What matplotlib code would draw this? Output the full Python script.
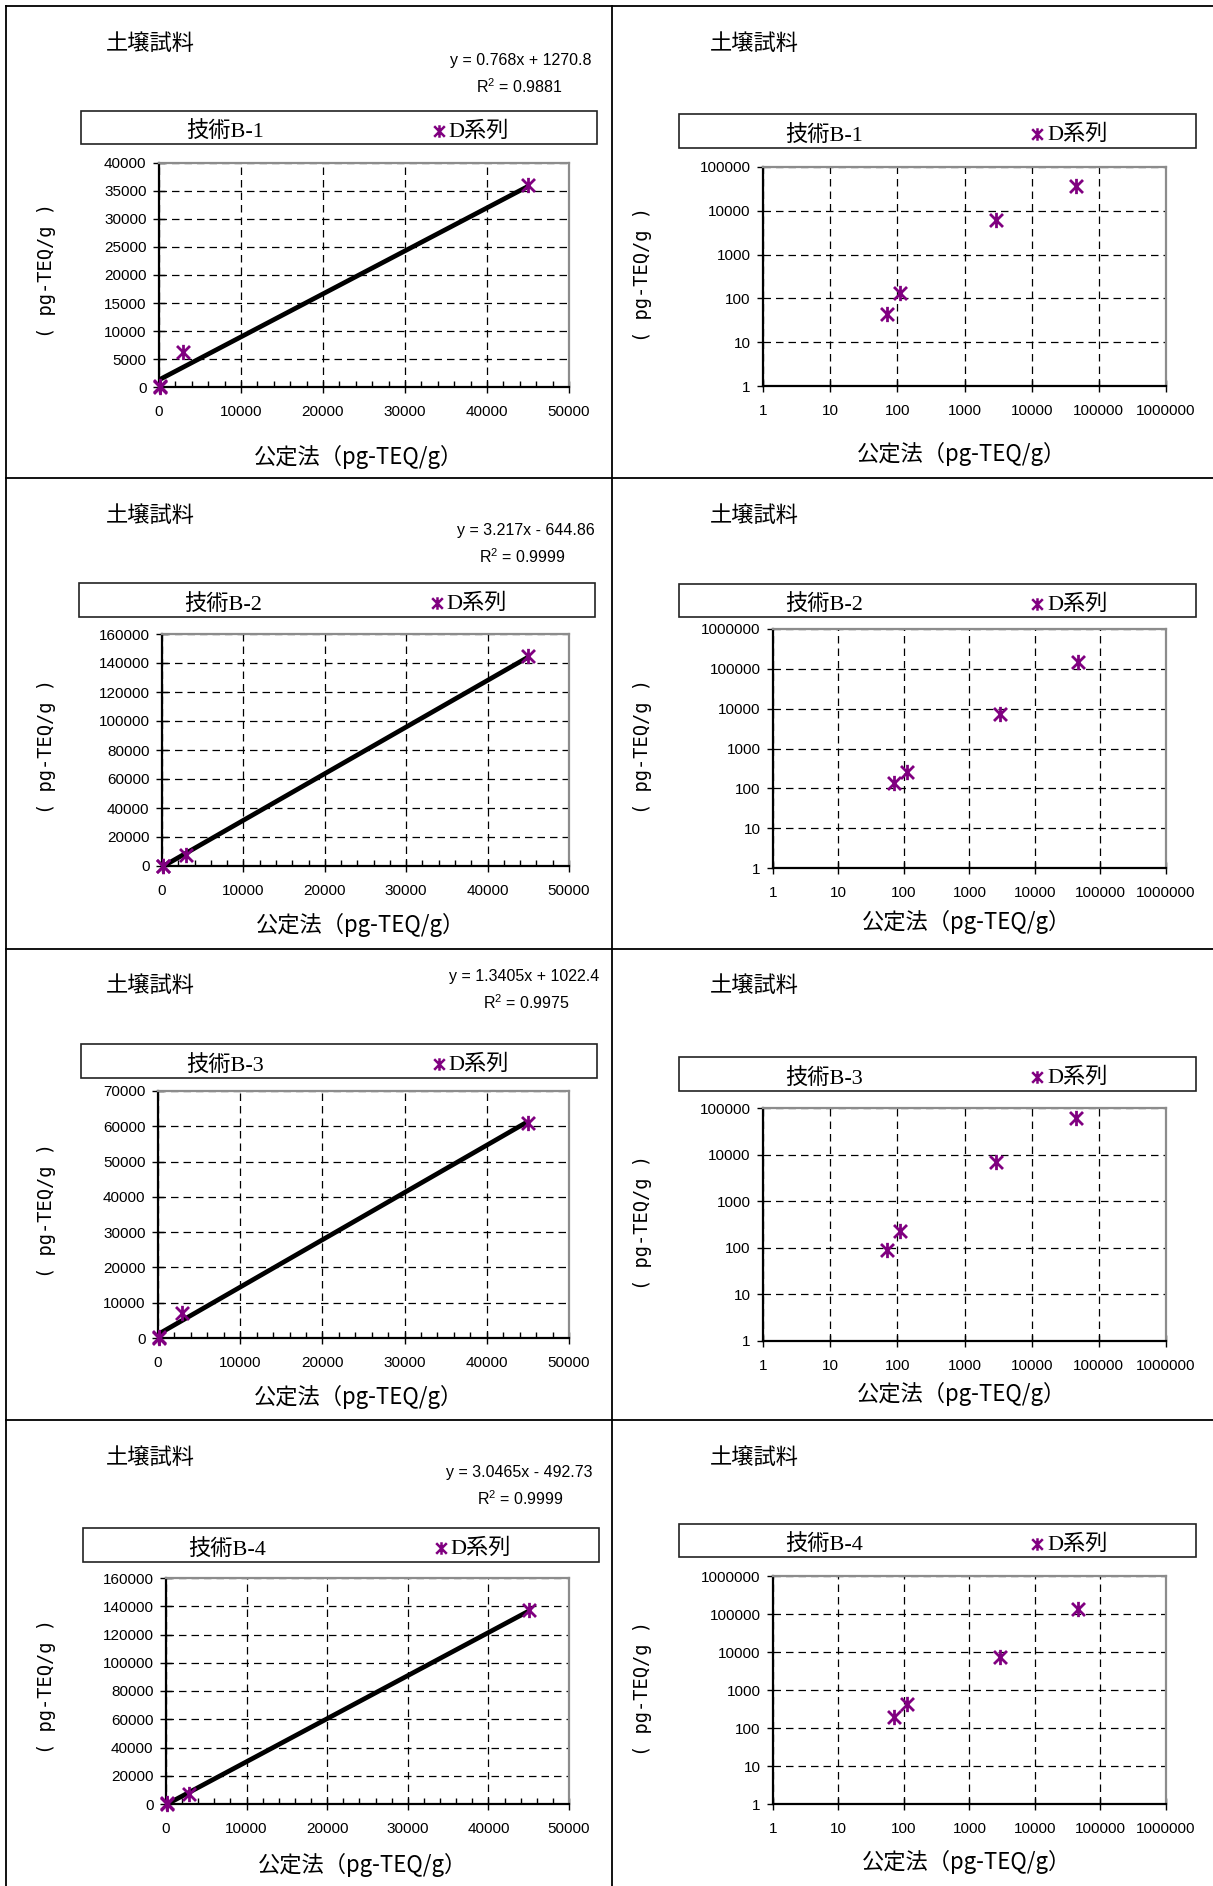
import matplotlib
matplotlib.use("Agg")
import matplotlib.pyplot as plt
from matplotlib import font_manager
from matplotlib.path import Path
from matplotlib.patches import Rectangle
from matplotlib.lines import Line2D
from matplotlib.ticker import FixedLocator, FixedFormatter, MultipleLocator
import numpy as np

# --- data ---
x_official = [70, 110, 2900, 45000]
y_b1 = [45, 130, 6200, 36000]
y_b2 = [140, 260, 7400, 145000]
y_b3 = [88, 224, 7100, 61000]
y_b4 = [194, 427, 7200, 137000]
tech_labels = ["技術B-1", "技術B-2", "技術B-3", "技術B-4"]
slopes = [0.768, 3.217, 1.3405, 3.0465]
intercepts = [1270.8, -644.86, 1022.4, -492.73]
eq_texts = ["y = 0.768x + 1270.8", "y = 3.217x - 644.86",
            "y = 1.3405x + 1022.4", "y = 3.0465x - 492.73"]
r2_texts = ["0.9881", "0.9999", "0.9975", "0.9999"]
lin_ymax = [40000, 160000, 70000, 160000]
lin_ystep = [5000, 20000, 10000, 20000]
log_ymax = [100000, 1000000, 100000, 1000000]
y_all = [y_b1, y_b2, y_b3, y_b4]

installed = {f.name for f in font_manager.fontManager.ttflist}
narrow = "Liberation Sans Narrow" if "Liberation Sans Narrow" in installed else "Liberation Sans"
CJK = "Noto Sans CJK JP"
plt.rcParams["font.family"] = [CJK, "DejaVu Sans"]
plt.rcParams["mathtext.fontset"] = "custom"
plt.rcParams["mathtext.rm"] = narrow

W, H = 1213, 1886
fig = plt.figure(figsize=(W / 100, H / 100), dpi=100)
fig.patch.set_facecolor("white")

PURPLE = "#800080"
star = Path([(0, -1), (0, 1), (-0.85, -0.85), (0.85, 0.85), (-0.85, 0.85), (0.85, -0.85)],
            [Path.MOVETO, Path.LINETO] * 3)


def fx(px):
    return px / W


def fy(py):
    return 1 - py / H


def add_text(x, y, s, **kw):
    fig.text(fx(x), fy(y), s, **kw)


# panel frame lines
for y in [6, 478, 949, 1420]:
    fig.add_artist(Line2D([fx(6), 1], [fy(y), fy(y)], color="black", lw=1.3))
fig.add_artist(Line2D([fx(6), fx(6)], [fy(6), 0], color="black", lw=1.3))
fig.add_artist(Line2D([fx(612), fx(612)], [fy(6), 0], color="black", lw=1.3))

# layout in pixels
lin_boxes = [(159, 163, 569, 387), (162, 634, 569, 866), (158, 1091, 569, 1338), (166, 1578, 569, 1804)]
log_boxes = [(763, 167, 1166, 386), (773, 629, 1166, 868), (763, 1108, 1166, 1341), (773, 1576, 1166, 1804)]
lin_legends = [(81, 111, 597, 144), (79, 583, 595, 617), (81, 1044, 597, 1078), (83, 1528, 599, 1562)]
log_legends = [(679, 114, 1196, 148), (679, 584, 1196, 617), (679, 1057, 1196, 1091), (679, 1524, 1196, 1557)]
title_y = [43, 515, 985, 1457]
eq_y = [60, 530, 976, 1472]
eq_right = [592, 595, 599, 593]
xlabel_y = [457, 925, 1397, 1865]

YLAB_FONT = ["DejaVu Sans Mono", CJK]
YLAB = "( pg-TEQ/g )"


def style_axes(ax):
    for s in ["left", "bottom"]:
        ax.spines[s].set_color("black")
        ax.spines[s].set_linewidth(1.6)
    for s in ["top", "right"]:
        ax.spines[s].set_color("#8c8c8c")
        ax.spines[s].set_linewidth(1.6)
    ax.grid(True, which="major", color="black", linestyle=(0, (6, 4)), linewidth=0.9)
    ax.set_axisbelow(True)
    for lab in ax.get_xticklabels() + ax.get_yticklabels():
        lab.set_fontfamily(narrow)
        lab.set_fontsize(11)


def legend_box(box, label):
    l, t, r, b = box
    fig.add_artist(Rectangle((fx(l), fy(b)), fx(r - l), (b - t) / H, transform=fig.transFigure,
                             facecolor="white", edgecolor="#222222", lw=1.2))
    cy = (t + b) / 2 + 4
    add_text(l + (r - l) * 0.28, cy, label, ha="center", va="center", fontsize=16,
             family=["Liberation Serif", CJK])
    mx = l + (r - l) * 0.693
    fig.add_artist(Line2D([fx(mx)], [fy(cy - 1)], transform=fig.transFigure, marker=star,
                          color=PURPLE, markersize=9, markeredgewidth=1.8, linestyle="none"))
    add_text(mx + 10, cy, "D系列", ha="left", va="center", fontsize=16,
             family=["Liberation Serif", CJK])


for i in range(4):
    ys = y_all[i]
    # ---- linear panel ----
    l, t, r, b = lin_boxes[i]
    ax = fig.add_axes([fx(l), fy(b), fx(r - l), (b - t) / H])
    xs = np.array([min(x_official), max(x_official)])
    ax.plot(xs, slopes[i] * xs + intercepts[i], color="black", lw=3.4, solid_capstyle="butt", zorder=3)
    ax.plot(x_official, ys, linestyle="none", marker=star, color=PURPLE,
            markersize=11, markeredgewidth=2, clip_on=False, zorder=4)
    ax.set_xlim(0, 50000)
    ax.set_ylim(0, lin_ymax[i])
    ax.xaxis.set_major_locator(MultipleLocator(10000))
    ax.xaxis.set_minor_locator(MultipleLocator(2000))
    ax.yaxis.set_major_locator(MultipleLocator(lin_ystep[i]))
    ax.tick_params(axis="x", which="major", direction="inout", length=8, width=1, pad=9)
    ax.tick_params(axis="x", which="minor", direction="in", length=4, width=1)
    ax.tick_params(axis="y", which="major", direction="inout", length=8, width=1, pad=5)
    style_axes(ax)
    add_text(106, title_y[i], "土壌試料", ha="left", va="center", fontsize=16)
    add_text(eq_right[i], eq_y[i], eq_texts[i], ha="right", va="center", fontsize=11.5, family=narrow)
    add_text(eq_right[i] - 29, eq_y[i] + 27, "R$^2$ = " + r2_texts[i], ha="right", va="center",
             fontsize=11.5, family=narrow)
    legend_box(lin_legends[i], tech_labels[i])
    add_text((l + r) / 2 - 5, xlabel_y[i], "公定法（pg-TEQ/g）", ha="center", va="center", fontsize=16)
    add_text(46, (t + b) / 2 - 4, YLAB, ha="center", va="center", fontsize=13.5,
             rotation=90, family=YLAB_FONT)

    # ---- log panel ----
    l, t, r, b = log_boxes[i]
    ax = fig.add_axes([fx(l), fy(b), fx(r - l), (b - t) / H])
    ax.plot(x_official, ys, linestyle="none", marker=star, color=PURPLE,
            markersize=11, markeredgewidth=2, zorder=4)
    ax.set_xscale("log")
    ax.set_yscale("log")
    ax.set_xlim(1, 1000000)
    ax.set_ylim(1, log_ymax[i])
    xt = [10 ** k for k in range(7)]
    yt = [10 ** k for k in range(int(np.log10(log_ymax[i])) + 1)]
    ax.xaxis.set_major_locator(FixedLocator(xt))
    ax.xaxis.set_major_formatter(FixedFormatter([str(v) for v in xt]))
    ax.yaxis.set_major_locator(FixedLocator(yt))
    ax.yaxis.set_major_formatter(FixedFormatter([str(v) for v in yt]))
    ax.xaxis.set_minor_locator(FixedLocator([]))
    ax.yaxis.set_minor_locator(FixedLocator([]))
    ax.tick_params(axis="x", which="major", direction="inout", length=8, width=1, pad=9)
    ax.tick_params(axis="y", which="major", direction="out", length=4, width=1, pad=5)
    style_axes(ax)
    add_text(710, title_y[i], "土壌試料", ha="left", va="center", fontsize=16)
    legend_box(log_legends[i], tech_labels[i])
    add_text((l + r) / 2 - 3, xlabel_y[i] - 3, "公定法（pg-TEQ/g）", ha="center", va="center", fontsize=16)
    add_text(642, (t + b) / 2 - 2, YLAB, ha="center", va="center", fontsize=13.5,
             rotation=90, family=YLAB_FONT)

fig.savefig("out.png", dpi=100, facecolor="white")
